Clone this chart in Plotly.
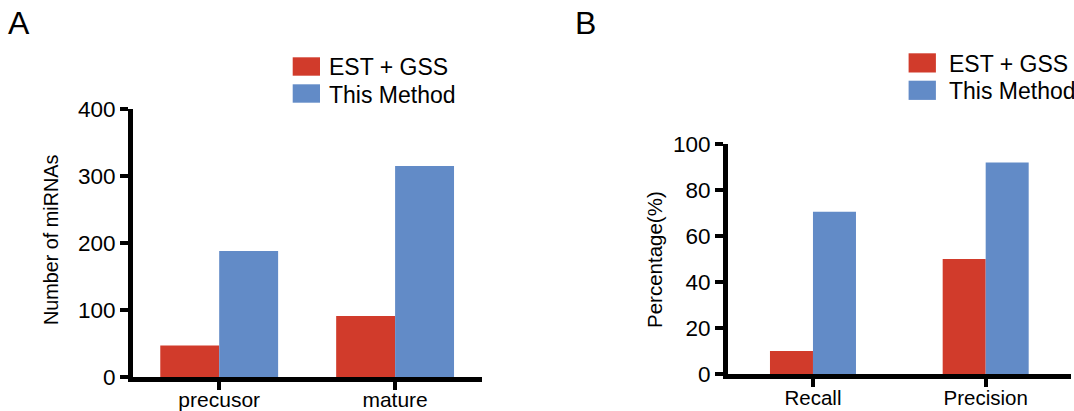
import plotly.graph_objects as go

W, H = 1074, 411

# ---- data ----
cats_a = ["precusor", "mature"]
est_a = [47, 91]
method_a = [188, 315]

cats_b = ["Recall", "Precision"]
est_b = [10, 50]
method_b = [70.5, 92]

series_names = ["EST + GSS", "This Method"]
RED = "#D13B2B"
BLUE = "#628BC7"
FONT = "Liberation Sans, Arial, Helvetica, sans-serif"


def px(x):
    return x / W


def py(y):
    return 1 - y / H


fig = go.Figure()
fig.add_trace(go.Bar(x=cats_a, y=est_a, name=series_names[0], marker=dict(color=RED, line=dict(width=0)),
                     xaxis="x", yaxis="y", showlegend=False, width=0.335, offset=-0.335))
fig.add_trace(go.Bar(x=cats_a, y=method_a, name=series_names[1], marker=dict(color=BLUE, line=dict(width=0)),
                     xaxis="x", yaxis="y", showlegend=False, width=0.335, offset=0.0))
fig.add_trace(go.Bar(x=cats_b, y=est_b, name=series_names[0], marker=dict(color=RED, line=dict(width=0)),
                     xaxis="x2", yaxis="y2", showlegend=False, width=0.249, offset=-0.249))
fig.add_trace(go.Bar(x=cats_b, y=method_b, name=series_names[1], marker=dict(color=BLUE, line=dict(width=0)),
                     xaxis="x2", yaxis="y2", showlegend=False, width=0.249, offset=0.0))

axis_common = dict(showline=True, linecolor="black", linewidth=5, ticks="outside",
                   tickcolor="black", tickwidth=3.5, showgrid=False, zeroline=False,
                   fixedrange=True, automargin=False)

fig.update_layout(
    template="none",
    width=W, height=H,
    margin=dict(l=0, r=0, t=0, b=0, pad=0, autoexpand=False),
    paper_bgcolor="white", plot_bgcolor="white",
    font=dict(family=FONT, color="black"),
    showlegend=False,
    xaxis=dict(domain=[px(133), px(482)], anchor="y", range=[-0.49, 1.494],
               ticklen=8, ticklabelstandoff=-8, tickfont=dict(size=21), **axis_common),
    yaxis=dict(domain=[py(377), py(109)], anchor="x", range=[0, 400],
               tickvals=[0, 100, 200, 300, 400], ticklen=8, tickfont=dict(size=22.5), **axis_common),
    xaxis2=dict(domain=[px(728), px(1071)], anchor="y2", range=[-0.492, 1.494],
                ticklen=8, ticklabelstandoff=-7, tickfont=dict(size=20.5), **axis_common),
    yaxis2=dict(domain=[py(374), py(144)], anchor="x2", range=[0, 100],
                tickvals=[0, 20, 40, 60, 80, 100], ticklen=8, tickfont=dict(size=22.5), **axis_common),
)

shapes = []
annotations = []

# panel letters
annotations.append(dict(text="A", x=px(6), y=py(23.5), xref="paper", yref="paper",
                        xanchor="left", yanchor="middle", showarrow=False,
                        font=dict(size=32, family=FONT, color="black")))
annotations.append(dict(text="B", x=px(573), y=py(23.5), xref="paper", yref="paper",
                        xanchor="left", yanchor="middle", showarrow=False,
                        font=dict(size=32, family=FONT, color="black")))

# y axis titles
annotations.append(dict(text="Number of miRNAs", x=px(51), y=py(240), xref="paper", yref="paper",
                        xanchor="center", yanchor="middle", textangle=-90, showarrow=False,
                        font=dict(size=19.8, family=FONT, color="black")))
annotations.append(dict(text="Percentage(%)", x=px(654), y=py(260), xref="paper", yref="paper",
                        xanchor="center", yanchor="middle", textangle=-90, showarrow=False,
                        font=dict(size=20.5, family=FONT, color="black")))


# legends (manual)
def legend(x0, y_red, y_blue, sw_w, sw_h, text_x):
    for yy, col, name in [(y_red, RED, series_names[0]), (y_blue, BLUE, series_names[1])]:
        shapes.append(dict(type="rect", xref="paper", yref="paper",
                           x0=px(x0), x1=px(x0 + sw_w), y0=py(yy), y1=py(yy + sw_h),
                           fillcolor=col, line=dict(width=0)))
        annotations.append(dict(text=name, x=px(text_x), y=py(yy + sw_h / 2 + 1), xref="paper", yref="paper",
                                xanchor="left", yanchor="middle", showarrow=False,
                                font=dict(size=23, family=FONT, color="black")))


legend(292.7, 57.3, 84.3, 27.3, 18.4, 327)
legend(908.6, 53.3, 80.7, 27.3, 19.2, 947)

fig.update_layout(shapes=shapes, annotations=annotations)

fig.write_html("out.html")
